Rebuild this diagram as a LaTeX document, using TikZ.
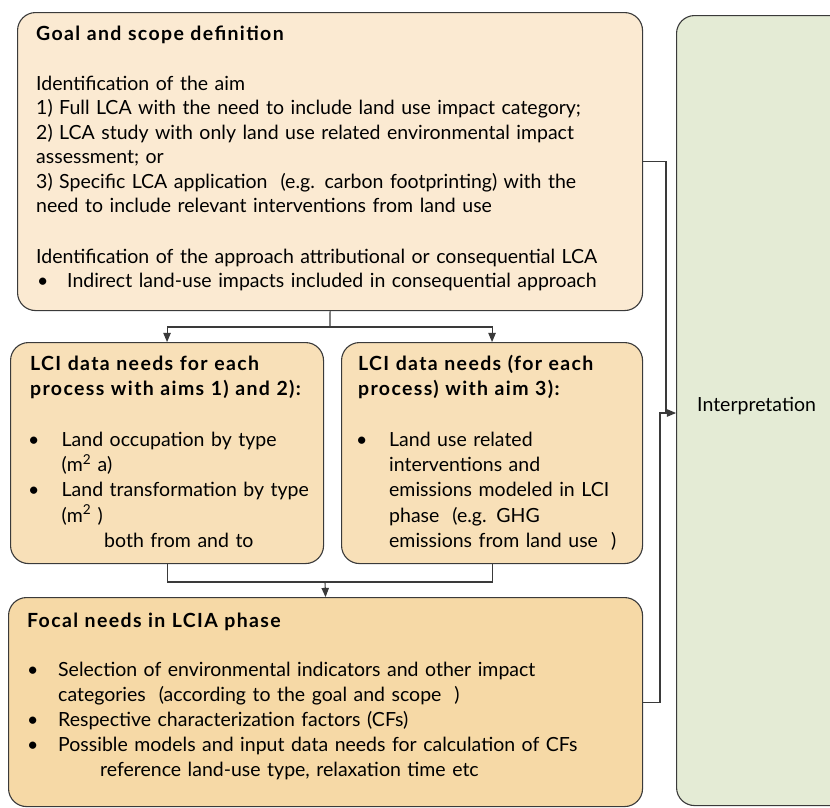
\documentclass[tikz,border=0pt]{standalone}
\usepackage{fontspec}
\setmainfont{Lato}[BoldFeatures={LetterSpace=7.0}]
\usetikzlibrary{arrows}

\definecolor{goalfill}{HTML}{FBEAD2}
\definecolor{lcifill}{HTML}{F8E0B8}
\definecolor{lciafill}{HTML}{F6D9A6}
\definecolor{interfill}{HTML}{E4EBD5}
\definecolor{linegray}{HTML}{3A3A3A}

\tikzset{
  stagebox/.style={draw=linegray,line width=1.1pt,rounded corners=18pt,inner sep=0pt,anchor=north west},
  boxtext/.style={anchor=base west,inner sep=0pt,align=left,text width=#1,
    font=\fontsize{19.5}{24.5}\selectfont},
  flow/.style={draw=linegray,line width=1.1pt},
}
\newcommand{\bul}[1]{\makebox[#1][l]{\textbullet}}

\begin{document}
\begin{tikzpicture}[x=1pt,y=-1pt,>=triangle 45]
	\useasboundingbox (0,0) rectangle (830,807);
	\clip (0,0) rectangle (830,807);

	% boxes
	\node[stagebox,fill=goalfill,minimum width=625pt,minimum height=298pt] (goal) at (17,12) {};
	\node[stagebox,fill=lcifill,minimum width=313pt,minimum height=221pt] (lciA) at (10,342) {};
	\node[stagebox,fill=lcifill,minimum width=301pt,minimum height=221pt] (lciB) at (341,342) {};
	\node[stagebox,fill=lciafill,minimum width=634pt,minimum height=209pt] (lcia) at (8,597) {};
	\node[stagebox,fill=interfill,minimum width=200pt,minimum height=790pt] (interp) at (676,15) {};

	% texts
	\node[boxtext=600pt] (goaltxt) at (36,40) {\textbf{Goal and scope definition}\\[25.5pt]
		Identification of the aim\\
		1) Full LCA with the need to include land use impact category;\\
		2) LCA study with only land use related environmental impact\\
		assessment; or\\
		3) Specific LCA application \ (e.g. carbon footprinting) with the\\
		need to include relevant interventions from land use\\[26pt]
		Identification of the approach attributional or consequential LCA\\
		\hspace*{1pt}\bul{30pt}Indirect land-use impacts included in consequential approach};
	\node[boxtext=290pt,font=\fontsize{19.5}{25.2}\selectfont] (lciAtxt) at (30,370) {\textbf{LCI data needs for each}\\
		\textbf{process with aims 1) and 2):}\\[26pt]
		\hspace*{-2pt}\bul{33.5pt}Land occupation by type\\
		\hspace*{31.5pt}(m\textsuperscript{2} a)\\
		\hspace*{-2pt}\bul{33.5pt}Land transformation by type\\
		\hspace*{31.5pt}(m\textsuperscript{2} )\\
		\hspace*{74pt}both from and to};
	\node[boxtext=280pt,font=\fontsize{19.5}{25.2}\selectfont] (lciBtxt) at (358,370) {\textbf{LCI data needs (for each}\\
		\textbf{process) with aim 3):}\\[26pt]
		\hspace*{-2pt}\bul{33pt}Land use related\\
		\hspace*{31pt}interventions and\\
		\hspace*{31pt}emissions modeled in LCI\\
		\hspace*{31pt}phase \ (e.g. GHG\\
		\hspace*{31pt}emissions from land use \ )};
	\node[boxtext=610pt,font=\fontsize{19.5}{24.8}\selectfont] (lciatxt) at (27,627) {\textbf{Focal needs in LCIA phase}\\[25pt]
		\bul{31pt}Selection of environmental indicators and other impact\\
		\hspace*{31pt}categories \ (according to the goal and scope \ )\\
		\bul{31pt}Respective characterization factors (CFs)\\
		\bul{31pt}Possible models and input data needs for calculation of CFs\\
		\hspace*{73pt}reference land-use type, relaxation time etc};
	\node[boxtext=140pt] (interptxt) at (697,411) {Interpretation};

	% connectors
	\coordinate (split) at (330,327);
	\coordinate (join) at (325,582);
	\draw[flow] (goal.south) -- (split);
	\draw[flow,->] (split) -| (lciA.north);
	\draw[flow,->] (split) -| (lciB.north);
	\draw[flow] (lciA.south) |- (join) -| (lciB.south);
	\draw[flow,->] (join) -- (lcia.north);
	\coordinate (inA) at (666,413);
	\coordinate (inB) at (660,413);
	\draw[flow] (goal.east) -| (inA);
	\draw[flow,->] (lcia.east) -| (inB) -- (interp.west |- inB);
\end{tikzpicture}
\end{document}
